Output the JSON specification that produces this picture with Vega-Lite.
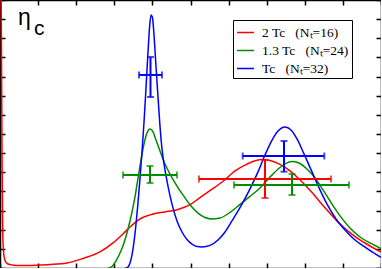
{
  "$schema": "https://vega.github.io/schema/vega-lite/v6.json",
  "width": 381,
  "height": 268,
  "padding": 0,
  "autosize": "none",
  "config": {"view": {"stroke": null}, "background": "white"},
  "datasets": {
    "curves": [
      {"series": "2 Tc  (Nₜ=16)", "x": 0.021, "y": 16.61},
      {"series": "2 Tc  (Nₜ=16)", "x": 0.039, "y": 11.39},
      {"series": "2 Tc  (Nₜ=16)", "x": 0.052, "y": 6.17},
      {"series": "2 Tc  (Nₜ=16)", "x": 0.066, "y": 2.77},
      {"series": "2 Tc  (Nₜ=16)", "x": 0.079, "y": 1.31},
      {"series": "2 Tc  (Nₜ=16)", "x": 0.105, "y": 0.63},
      {"series": "2 Tc  (Nₜ=16)", "x": 0.144, "y": 0.34},
      {"series": "2 Tc  (Nₜ=16)", "x": 0.21, "y": 0.21},
      {"series": "2 Tc  (Nₜ=16)", "x": 0.315, "y": 0.16},
      {"series": "2 Tc  (Nₜ=16)", "x": 0.525, "y": 0.13},
      {"series": "2 Tc  (Nₜ=16)", "x": 0.971, "y": 0.15},
      {"series": "2 Tc  (Nₜ=16)", "x": 1.312, "y": 0.18},
      {"series": "2 Tc  (Nₜ=16)", "x": 1.759, "y": 0.26},
      {"series": "2 Tc  (Nₜ=16)", "x": 2.178, "y": 0.5},
      {"series": "2 Tc  (Nₜ=16)", "x": 2.625, "y": 0.84},
      {"series": "2 Tc  (Nₜ=16)", "x": 2.966, "y": 1.31},
      {"series": "2 Tc  (Nₜ=16)", "x": 3.228, "y": 1.78},
      {"series": "2 Tc  (Nₜ=16)", "x": 3.412, "y": 2.14},
      {"series": "2 Tc  (Nₜ=16)", "x": 3.675, "y": 2.56},
      {"series": "2 Tc  (Nₜ=16)", "x": 4.016, "y": 2.82},
      {"series": "2 Tc  (Nₜ=16)", "x": 4.331, "y": 2.93},
      {"series": "2 Tc  (Nₜ=16)", "x": 4.672, "y": 3.06},
      {"series": "2 Tc  (Nₜ=16)", "x": 5.013, "y": 3.34},
      {"series": "2 Tc  (Nₜ=16)", "x": 5.249, "y": 3.68},
      {"series": "2 Tc  (Nₜ=16)", "x": 5.538, "y": 4.08},
      {"series": "2 Tc  (Nₜ=16)", "x": 5.879, "y": 4.57},
      {"series": "2 Tc  (Nₜ=16)", "x": 6.168, "y": 5.07},
      {"series": "2 Tc  (Nₜ=16)", "x": 6.483, "y": 5.43},
      {"series": "2 Tc  (Nₜ=16)", "x": 6.719, "y": 5.62},
      {"series": "2 Tc  (Nₜ=16)", "x": 6.877, "y": 5.67},
      {"series": "2 Tc  (Nₜ=16)", "x": 7.087, "y": 5.62},
      {"series": "2 Tc  (Nₜ=16)", "x": 7.349, "y": 5.41},
      {"series": "2 Tc  (Nₜ=16)", "x": 7.612, "y": 5.07},
      {"series": "2 Tc  (Nₜ=16)", "x": 7.795, "y": 4.75},
      {"series": "2 Tc  (Nₜ=16)", "x": 8.005, "y": 4.34},
      {"series": "2 Tc  (Nₜ=16)", "x": 8.215, "y": 3.89},
      {"series": "2 Tc  (Nₜ=16)", "x": 8.399, "y": 3.45},
      {"series": "2 Tc  (Nₜ=16)", "x": 8.583, "y": 3.03},
      {"series": "2 Tc  (Nₜ=16)", "x": 8.871, "y": 2.4},
      {"series": "2 Tc  (Nₜ=16)", "x": 9.134, "y": 1.93},
      {"series": "2 Tc  (Nₜ=16)", "x": 9.396, "y": 1.54},
      {"series": "2 Tc  (Nₜ=16)", "x": 9.711, "y": 1.15},
      {"series": "2 Tc  (Nₜ=16)", "x": 10.0, "y": 0.84},

      {"series": "1.3 Tc  (Nₜ=24)", "x": 0.0, "y": -0.05},
      {"series": "1.3 Tc  (Nₜ=24)", "x": 2.756, "y": -0.05},
      {"series": "1.3 Tc  (Nₜ=24)", "x": 2.861, "y": 0.0},
      {"series": "1.3 Tc  (Nₜ=24)", "x": 2.94, "y": 0.08},
      {"series": "1.3 Tc  (Nₜ=24)", "x": 3.045, "y": 0.37},
      {"series": "1.3 Tc  (Nₜ=24)", "x": 3.15, "y": 0.78},
      {"series": "1.3 Tc  (Nₜ=24)", "x": 3.255, "y": 1.31},
      {"series": "1.3 Tc  (Nₜ=24)", "x": 3.36, "y": 2.04},
      {"series": "1.3 Tc  (Nₜ=24)", "x": 3.465, "y": 2.93},
      {"series": "1.3 Tc  (Nₜ=24)", "x": 3.543, "y": 3.71},
      {"series": "1.3 Tc  (Nₜ=24)", "x": 3.622, "y": 4.7},
      {"series": "1.3 Tc  (Nₜ=24)", "x": 3.701, "y": 5.64},
      {"series": "1.3 Tc  (Nₜ=24)", "x": 3.78, "y": 6.48},
      {"series": "1.3 Tc  (Nₜ=24)", "x": 3.858, "y": 7.05},
      {"series": "1.3 Tc  (Nₜ=24)", "x": 3.937, "y": 7.26},
      {"series": "1.3 Tc  (Nₜ=24)", "x": 4.016, "y": 7.11},
      {"series": "1.3 Tc  (Nₜ=24)", "x": 4.094, "y": 6.69},
      {"series": "1.3 Tc  (Nₜ=24)", "x": 4.199, "y": 6.11},
      {"series": "1.3 Tc  (Nₜ=24)", "x": 4.331, "y": 5.43},
      {"series": "1.3 Tc  (Nₜ=24)", "x": 4.488, "y": 4.81},
      {"series": "1.3 Tc  (Nₜ=24)", "x": 4.646, "y": 4.28},
      {"series": "1.3 Tc  (Nₜ=24)", "x": 4.829, "y": 3.74},
      {"series": "1.3 Tc  (Nₜ=24)", "x": 5.013, "y": 3.24},
      {"series": "1.3 Tc  (Nₜ=24)", "x": 5.197, "y": 2.87},
      {"series": "1.3 Tc  (Nₜ=24)", "x": 5.381, "y": 2.64},
      {"series": "1.3 Tc  (Nₜ=24)", "x": 5.564, "y": 2.56},
      {"series": "1.3 Tc  (Nₜ=24)", "x": 5.774, "y": 2.61},
      {"series": "1.3 Tc  (Nₜ=24)", "x": 6.037, "y": 2.9},
      {"series": "1.3 Tc  (Nₜ=24)", "x": 6.299, "y": 3.32},
      {"series": "1.3 Tc  (Nₜ=24)", "x": 6.562, "y": 3.74},
      {"series": "1.3 Tc  (Nₜ=24)", "x": 6.824, "y": 4.18},
      {"series": "1.3 Tc  (Nₜ=24)", "x": 7.087, "y": 4.75},
      {"series": "1.3 Tc  (Nₜ=24)", "x": 7.349, "y": 5.25},
      {"series": "1.3 Tc  (Nₜ=24)", "x": 7.533, "y": 5.49},
      {"series": "1.3 Tc  (Nₜ=24)", "x": 7.69, "y": 5.56},
      {"series": "1.3 Tc  (Nₜ=24)", "x": 7.874, "y": 5.46},
      {"series": "1.3 Tc  (Nₜ=24)", "x": 8.058, "y": 5.17},
      {"series": "1.3 Tc  (Nₜ=24)", "x": 8.268, "y": 4.7},
      {"series": "1.3 Tc  (Nₜ=24)", "x": 8.478, "y": 4.08},
      {"series": "1.3 Tc  (Nₜ=24)", "x": 8.714, "y": 3.34},
      {"series": "1.3 Tc  (Nₜ=24)", "x": 8.95, "y": 2.66},
      {"series": "1.3 Tc  (Nₜ=24)", "x": 9.186, "y": 2.09},
      {"series": "1.3 Tc  (Nₜ=24)", "x": 9.449, "y": 1.62},
      {"series": "1.3 Tc  (Nₜ=24)", "x": 9.711, "y": 1.31},
      {"series": "1.3 Tc  (Nₜ=24)", "x": 10.0, "y": 1.02},

      {"series": "Tc  (Nₜ=32)", "x": 0.0, "y": -0.05},
      {"series": "Tc  (Nₜ=32)", "x": 3.15, "y": -0.05},
      {"series": "Tc  (Nₜ=32)", "x": 3.281, "y": -0.03},
      {"series": "Tc  (Nₜ=32)", "x": 3.36, "y": 0.05},
      {"series": "Tc  (Nₜ=32)", "x": 3.412, "y": 0.26},
      {"series": "Tc  (Nₜ=32)", "x": 3.465, "y": 0.68},
      {"series": "Tc  (Nₜ=32)", "x": 3.517, "y": 1.36},
      {"series": "Tc  (Nₜ=32)", "x": 3.57, "y": 2.3},
      {"series": "Tc  (Nₜ=32)", "x": 3.622, "y": 3.4},
      {"series": "Tc  (Nₜ=32)", "x": 3.675, "y": 4.7},
      {"series": "Tc  (Nₜ=32)", "x": 3.727, "y": 6.06},
      {"series": "Tc  (Nₜ=32)", "x": 3.78, "y": 7.63},
      {"series": "Tc  (Nₜ=32)", "x": 3.832, "y": 9.4},
      {"series": "Tc  (Nₜ=32)", "x": 3.885, "y": 11.29},
      {"series": "Tc  (Nₜ=32)", "x": 3.924, "y": 12.54},
      {"series": "Tc  (Nₜ=32)", "x": 3.963, "y": 13.22},
      {"series": "Tc  (Nₜ=32)", "x": 4.003, "y": 13.06},
      {"series": "Tc  (Nₜ=32)", "x": 4.042, "y": 12.17},
      {"series": "Tc  (Nₜ=32)", "x": 4.094, "y": 10.55},
      {"series": "Tc  (Nₜ=32)", "x": 4.147, "y": 8.93},
      {"series": "Tc  (Nₜ=32)", "x": 4.199, "y": 7.42},
      {"series": "Tc  (Nₜ=32)", "x": 4.252, "y": 6.22},
      {"series": "Tc  (Nₜ=32)", "x": 4.331, "y": 5.12},
      {"series": "Tc  (Nₜ=32)", "x": 4.409, "y": 4.28},
      {"series": "Tc  (Nₜ=32)", "x": 4.514, "y": 3.34},
      {"series": "Tc  (Nₜ=32)", "x": 4.646, "y": 2.46},
      {"series": "Tc  (Nₜ=32)", "x": 4.777, "y": 1.88},
      {"series": "Tc  (Nₜ=32)", "x": 4.908, "y": 1.49},
      {"series": "Tc  (Nₜ=32)", "x": 5.039, "y": 1.25},
      {"series": "Tc  (Nₜ=32)", "x": 5.171, "y": 1.12},
      {"series": "Tc  (Nₜ=32)", "x": 5.302, "y": 1.1},
      {"series": "Tc  (Nₜ=32)", "x": 5.512, "y": 1.18},
      {"series": "Tc  (Nₜ=32)", "x": 5.722, "y": 1.46},
      {"series": "Tc  (Nₜ=32)", "x": 5.906, "y": 1.88},
      {"series": "Tc  (Nₜ=32)", "x": 6.089, "y": 2.46},
      {"series": "Tc  (Nₜ=32)", "x": 6.325, "y": 3.24},
      {"series": "Tc  (Nₜ=32)", "x": 6.562, "y": 4.13},
      {"series": "Tc  (Nₜ=32)", "x": 6.772, "y": 5.02},
      {"series": "Tc  (Nₜ=32)", "x": 6.955, "y": 5.9},
      {"series": "Tc  (Nₜ=32)", "x": 7.113, "y": 6.58},
      {"series": "Tc  (Nₜ=32)", "x": 7.297, "y": 7.16},
      {"series": "Tc  (Nₜ=32)", "x": 7.48, "y": 7.37},
      {"series": "Tc  (Nₜ=32)", "x": 7.638, "y": 7.21},
      {"series": "Tc  (Nₜ=32)", "x": 7.795, "y": 6.74},
      {"series": "Tc  (Nₜ=32)", "x": 7.979, "y": 5.96},
      {"series": "Tc  (Nₜ=32)", "x": 8.189, "y": 5.02},
      {"series": "Tc  (Nₜ=32)", "x": 8.399, "y": 4.08},
      {"series": "Tc  (Nₜ=32)", "x": 8.609, "y": 3.24},
      {"series": "Tc  (Nₜ=32)", "x": 8.819, "y": 2.56},
      {"series": "Tc  (Nₜ=32)", "x": 9.055, "y": 1.99},
      {"series": "Tc  (Nₜ=32)", "x": 9.318, "y": 1.46},
      {"series": "Tc  (Nₜ=32)", "x": 9.659, "y": 0.99},
      {"series": "Tc  (Nₜ=32)", "x": 10.0, "y": 0.55}
    ],
    "errs": [
      {"series": "Tc  (Nₜ=32)", "x": 3.95, "xlo": 3.648, "xhi": 4.252, "y": 10.084, "ylo": 8.934, "yhi": 11.024},
      {"series": "Tc  (Nₜ=32)", "x": 7.454, "xlo": 6.37, "xhi": 8.512, "y": 5.852, "ylo": 5.031, "yhi": 6.635},
      {"series": "1.3 Tc  (Nₜ=24)", "x": 3.937, "xlo": 3.228, "xhi": 4.646, "y": 4.859, "ylo": 4.441, "yhi": 5.329},
      {"series": "1.3 Tc  (Nₜ=24)", "x": 7.664, "xlo": 6.142, "xhi": 9.16, "y": 4.336, "ylo": 3.814, "yhi": 4.911},
      {"series": "2 Tc  (Nₜ=16)", "x": 6.955, "xlo": 5.223, "xhi": 8.688, "y": 4.65, "ylo": 3.657, "yhi": 5.643}
    ],
    "label": [{"name": "η", "sub": "c"}]
  },
  "resolve": {"axis": {"x": "independent", "y": "independent"}},
  "layer": [
    {
      "data": {"name": "curves"},
      "mark": {"type": "line", "strokeWidth": 1.5, "clip": true, "interpolate": "monotone"},
      "encoding": {
        "x": {"field": "x", "type": "quantitative", "scale": {"domain": [0, 10], "nice": false, "zero": false},
              "axis": {"orient": "bottom", "values": [0,1,2,3,4,5,6,7,8,9,10], "labels": false, "title": null, "grid": false, "tickSize": -5, "tickWidth": 1.5, "tickColor": "black", "domainColor": "black", "domainWidth": 1.5}},
        "y": {"field": "y", "type": "quantitative", "scale": {"domain": [0, 14], "nice": false, "zero": false},
              "axis": {"orient": "left", "values": [0,1,2,3,4,5,6,7,8,9,10,11,12,13,14], "labels": false, "title": null, "grid": false, "tickSize": -5, "tickWidth": 1.5, "tickColor": "black", "domainColor": "black", "domainWidth": 1.5}},
        "color": {"field": "series", "type": "nominal",
                  "scale": {"domain": ["2 Tc  (Nₜ=16)", "1.3 Tc  (Nₜ=24)", "Tc  (Nₜ=32)"], "range": ["#ff0000", "#008b00", "#0000ff"]},
                  "legend": {"title": null, "orient": "none", "legendX": 233, "legendY": 20, "padding": 3,
                             "strokeColor": "black", "fillColor": "white",
                             "symbolType": "stroke", "symbolSize": 289, "symbolStrokeWidth": 1.5,
                             "labelFont": "Liberation Serif", "labelFontSize": 13.5, "labelColor": "black",
                             "labelOffset": 7, "rowPadding": 2, "labelLimit": 300,
                             "labelExpr": "replace(datum.label, '  ', '\u00a0\u00a0\u00a0') + '\u00a0\u00a0\u00a0\u00a0\u00a0\u00a0\u00a0\u00a0\u00a0\u00a0\u00a0\u00a0'"}},
        "detail": {"field": "series"}
      }
    },
    {
      "data": {"name": "curves"},
      "mark": {"type": "line", "opacity": 0},
      "encoding": {
        "x": {"field": "x", "type": "quantitative",
              "axis": {"orient": "top", "values": [0,1,2,3,4,5,6,7,8,9,10], "labels": false, "title": null, "grid": false, "tickSize": -5, "tickWidth": 1.5, "tickColor": "black", "domainColor": "black", "domainWidth": 1.5}},
        "y": {"field": "y", "type": "quantitative",
              "axis": {"orient": "right", "values": [0,1,2,3,4,5,6,7,8,9,10,11,12,13,14], "labels": false, "title": null, "grid": false, "tickSize": -5, "tickWidth": 1.5, "tickColor": "black", "domainColor": "black", "domainWidth": 1.5}},
        "detail": {"field": "series"}
      }
    },
    {
      "data": {"name": "errs"},
      "mark": {"type": "errorbar", "orient": "horizontal", "ticks": {"size": 7, "thickness": 2}, "rule": {"strokeWidth": 2}},
      "encoding": {
        "x": {"field": "xlo", "type": "quantitative", "axis": null},
        "x2": {"field": "xhi"},
        "y": {"field": "y", "type": "quantitative", "axis": null},
        "color": {"field": "series", "type": "nominal", "legend": null}
      }
    },
    {
      "data": {"name": "errs"},
      "mark": {"type": "errorbar", "orient": "vertical", "ticks": {"size": 7, "thickness": 2}, "rule": {"strokeWidth": 2}},
      "encoding": {
        "y": {"field": "ylo", "type": "quantitative", "axis": null},
        "y2": {"field": "yhi"},
        "x": {"field": "x", "type": "quantitative", "axis": null},
        "color": {"field": "series", "type": "nominal", "legend": null}
      }
    },
    {
      "data": {"name": "label"},
      "mark": {"type": "text", "font": "Liberation Sans", "fontSize": 23, "align": "left", "baseline": "alphabetic", "color": "black"},
      "encoding": {
        "text": {"field": "name"},
        "x": {"datum": 0.47, "type": "quantitative", "axis": null},
        "y": {"datum": 12.7, "type": "quantitative", "axis": null}
      }
    },
    {
      "data": {"name": "label"},
      "mark": {"type": "text", "font": "Liberation Sans", "fontSize": 21, "align": "left", "baseline": "alphabetic", "color": "black"},
      "encoding": {
        "text": {"field": "sub"},
        "x": {"datum": 0.89, "type": "quantitative", "axis": null},
        "y": {"datum": 12.17, "type": "quantitative", "axis": null}
      }
    }
  ]
}
